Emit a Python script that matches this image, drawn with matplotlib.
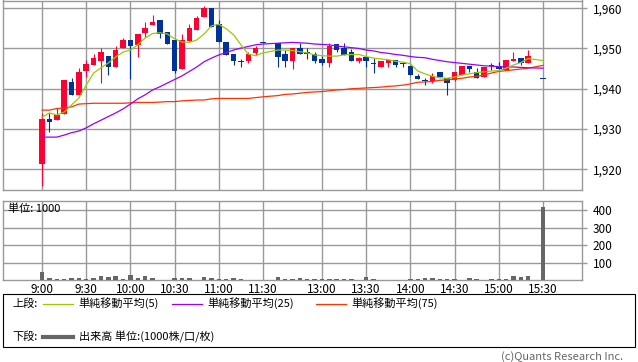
import matplotlib
matplotlib.use('Agg')
import matplotlib.pyplot as plt
from matplotlib.patches import Rectangle
from matplotlib.lines import Line2D
from matplotlib.ticker import FuncFormatter

plt.rcParams['font.family'] = ['Noto Sans CJK JP', 'DejaVu Sans']

# 5-minute bars: morning 9:00-11:30, afternoon 12:30-15:20, closing auction 15:30
times = [f'{m // 60}:{m % 60:02d}' for m in
         list(range(540, 691, 5)) + list(range(750, 921, 5)) + [930]]

opens = [1921.4, 1932.5, 1932.2, 1933.8, 1941.7, 1938.5, 1944.5, 1946.0, 1947.0, 1948.1,
         1945.5, 1950.1, 1952.1, 1950.9, 1953.9, 1955.9, 1957.1, 1954.1, 1952.1, 1945.0,
         1951.9, 1954.5, 1957.9, 1960.1, 1956.1, 1951.6, 1948.6, 1946.7, 1946.9, 1948.8,
         1951.5,
         1951.3, 1948.6, 1947.0, 1950.1, 1949.1, 1948.6, 1947.3, 1946.5, 1951.1, 1950.1,
         1949.2, 1946.9, 1947.8, 1946.3, 1945.5, 1946.5, 1947.2, 1946.5, 1945.7, 1943.2,
         1942.0, 1942.0, 1944.2, 1942.6, 1942.2, 1943.4, 1945.7, 1944.2, 1943.0, 1945.7,
         1945.7, 1944.7, 1946.9, 1947.6, 1946.4,
         1942.6]
highs = [1934.0, 1934.0, 1935.1, 1942.2, 1942.6, 1945.2, 1947.2, 1948.6, 1950.1, 1948.1,
         1950.6, 1952.7, 1952.1, 1953.6, 1956.6, 1958.2, 1957.1, 1954.1, 1952.1, 1953.6,
         1956.1, 1958.1, 1960.6, 1960.1, 1957.1, 1951.6, 1948.6, 1947.3, 1949.2, 1950.6,
         1951.5,
         1951.3, 1949.5, 1950.1, 1951.3, 1950.1, 1949.2, 1948.1, 1951.3, 1951.1, 1951.3,
         1949.8, 1948.0, 1947.8, 1947.6, 1946.9, 1947.2, 1947.2, 1946.7, 1945.7, 1943.7,
         1942.6, 1944.0, 1944.2, 1942.6, 1944.2, 1945.7, 1945.7, 1945.1, 1945.5, 1946.4,
         1946.7, 1947.1, 1949.1, 1947.6, 1949.6,
         1942.6]
lows = [1915.9, 1929.3, 1932.2, 1933.8, 1938.5, 1938.5, 1943.0, 1946.0, 1941.5, 1943.4,
        1945.5, 1950.1, 1942.4, 1948.0, 1952.8, 1955.9, 1952.5, 1951.0, 1944.0, 1945.0,
        1951.9, 1954.5, 1957.9, 1955.4, 1951.5, 1948.4, 1945.9, 1945.5, 1946.3, 1948.4,
        1951.5,
        1945.5, 1945.5, 1945.0, 1948.6, 1947.3, 1946.3, 1945.9, 1945.5, 1949.0, 1948.4,
        1947.0, 1946.5, 1945.5, 1944.0, 1945.5, 1945.5, 1945.5, 1945.5, 1943.4, 1942.5,
        1940.9, 1941.5, 1943.0, 1938.5, 1941.9, 1943.4, 1944.2, 1942.6, 1943.0, 1944.7,
        1944.8, 1944.7, 1946.9, 1945.9, 1946.4,
        1942.6]
closes = [1932.5, 1931.8, 1933.5, 1942.2, 1938.5, 1944.2, 1946.2, 1947.6, 1949.2, 1945.5,
          1949.6, 1952.1, 1950.5, 1953.6, 1955.1, 1956.6, 1953.5, 1951.0, 1944.5, 1952.1,
          1955.1, 1957.6, 1960.1, 1955.4, 1951.5, 1948.4, 1946.9, 1946.7, 1948.6, 1950.1,
          1951.5,
          1947.8, 1946.9, 1950.1, 1948.6, 1948.6, 1947.0, 1946.5, 1950.5, 1949.5, 1948.4,
          1947.0, 1947.6, 1946.9, 1946.3, 1946.9, 1947.2, 1945.9, 1946.1, 1943.4, 1942.5,
          1942.0, 1943.2, 1943.0, 1941.5, 1944.2, 1945.7, 1944.9, 1942.6, 1945.5, 1945.7,
          1944.8, 1947.1, 1947.4, 1946.3, 1948.1,
          1942.6]

ma5 = [1932.9, 1934.0, 1933.5, 1934.2, 1936.0, 1937.7, 1940.9, 1943.9, 1945.2, 1946.4,
       1947.9, 1949.1, 1949.6, 1950.9, 1952.6, 1953.7, 1953.9, 1953.6, 1952.4, 1951.6,
       1951.5, 1952.1, 1953.6, 1955.6, 1956.0, 1954.9, 1953.4, 1950.9, 1948.6, 1948.2,
       1948.9,
       1949.6, 1949.6, 1949.5, 1949.2, 1948.9, 1948.4, 1948.2, 1948.1, 1948.1, 1948.4,
       1948.5, 1948.5, 1948.0, 1947.6, 1947.4, 1947.2, 1946.8, 1946.6, 1946.2, 1944.4,
       1943.7, 1943.1, 1942.7, 1942.6, 1942.9, 1943.4, 1943.7, 1944.0, 1944.2, 1944.4,
       1944.5, 1945.1, 1945.9, 1946.5, 1947.5,
       1947.0]
ma25 = [1928.0, 1928.0, 1928.0, 1928.5, 1929.1, 1929.5, 1930.3, 1931.3, 1932.2, 1933.1,
        1934.0, 1935.0, 1936.2, 1937.5, 1938.5, 1939.7, 1940.5, 1941.4, 1942.3, 1943.2,
        1944.3, 1945.4, 1946.7, 1947.6, 1948.4, 1949.0, 1949.6, 1950.1, 1950.5, 1950.9,
        1951.1,
        1951.3, 1951.4, 1951.5, 1951.4, 1951.3, 1951.1, 1951.0, 1950.9, 1950.6, 1950.4,
        1950.2, 1950.0, 1949.6, 1949.4, 1949.0, 1948.8, 1948.5, 1948.3, 1948.0, 1947.8,
        1947.7, 1947.3, 1947.0, 1946.7, 1946.5, 1946.3, 1946.1, 1945.9, 1945.7, 1945.6,
        1945.5, 1945.4, 1945.4, 1945.3, 1945.2,
        1945.1]
ma75 = [1934.7, 1934.7, 1935.1, 1935.2, 1935.5, 1936.2, 1936.3, 1936.4, 1936.4, 1936.4,
        1936.4, 1936.4, 1936.5, 1936.6, 1936.6, 1936.6, 1936.7, 1936.8, 1936.8, 1937.0,
        1937.1, 1937.2, 1937.2, 1937.5, 1937.6, 1937.6, 1937.6, 1937.6, 1937.6, 1937.8,
        1938.0,
        1938.3, 1938.6, 1938.7, 1938.9, 1939.1, 1939.2, 1939.3, 1939.5, 1939.7, 1939.8,
        1940.0, 1940.1, 1940.2, 1940.3, 1940.4, 1940.6, 1940.7, 1940.9, 1941.2, 1941.6,
        1941.7, 1941.8, 1942.1, 1942.2, 1942.4, 1942.6, 1942.9, 1943.1, 1943.4, 1943.9,
        1944.3, 1944.5, 1944.7, 1944.9, 1945.1,
        1945.8]

volumes = [48, 11, 7, 7, 11, 11, 7, 14, 24, 20,
           24, 7, 30, 14, 24, 14, 4, 4, 14, 14,
           14, 4, 18, 14, 8, 8, 11, 7, 4, 4,
           3,
           18, 8, 8, 11, 7, 7, 7, 7, 8, 8,
           7, 4, 18, 7, 4, 4, 4, 4, 7, 7,
           12, 12, 8, 7, 7, 4, 12, 7, 4, 7,
           7, 7, 24, 18, 24,
           416]

tick_times = ['9:00', '9:30', '10:00', '10:30', '11:00', '11:30',
              '13:00', '13:30', '14:00', '14:30', '15:00', '15:30']

RED = '#ff0033'
BLUE = '#003399'
GRID = '#999999'


def slot(t):
    h, m = map(int, t.split(':'))
    mins = h * 60 + m
    if mins <= 690:
        return (mins - 540) / 5
    return 32 + (mins - 750) / 5


W, H = 638, 362


def fx(px):
    return px / W


def fy(py):
    return 1 - py / H


fig = plt.figure(figsize=(W / 100, H / 100), dpi=100)
ax = fig.add_axes([fx(3), fy(190.3), fx(582) - fx(3), (190.3 - 0.5) / H])
axv = fig.add_axes([fx(3), fy(280.3), fx(582) - fx(3), (280.3 - 201) / H])

x = [slot(t) for t in times]
xt = [slot(t) for t in tick_times]

# candles
for xi, o, h, l, c in zip(x, opens, highs, lows, closes):
    col = RED if c > o else BLUE
    if h > l:
        ax.vlines(xi, l, h, color=col, lw=0.8, zorder=3)
    hgt = abs(c - o)
    if hgt < 0.3:
        ax.bar(xi, 0.3, bottom=o - 0.15, width=0.75, color=col, lw=0, zorder=3)
    else:
        ax.bar(xi, hgt, bottom=min(o, c), width=0.75, color=col, lw=0, zorder=3)

ax.plot(x, ma75, color='#ff3300', lw=0.9, zorder=4)
ax.plot(x, ma25, color='#9900ff', lw=0.9, zorder=4)
ax.plot(x, ma5, color='#99cc00', lw=0.9, zorder=4)

for a in (ax, axv):
    a.set_xlim(-5.3, 73.3)
    a.set_xticks(xt)
    a.grid(color=GRID, lw=1.0, zorder=0)
    a.set_axisbelow(True)
    a.yaxis.tick_right()
    a.tick_params(axis='y', length=3.6, width=1.0, color=GRID, pad=4, labelsize=8.5)
    a.tick_params(axis='x', length=0)
    for s in a.spines.values():
        s.set_color(GRID)
        s.set_linewidth(1.0)

ax.set_ylim(1914.8, 1961.9)
ax.set_yticks([1920, 1930, 1940, 1950, 1960])
ax.yaxis.set_major_formatter(FuncFormatter(lambda v, p: f'{v:,.0f}'))
ax.tick_params(axis='x', labelbottom=False)

axv.bar(x, volumes, width=0.6, color='#666666', lw=0, zorder=3)
axv.set_ylim(0, 453)
axv.set_yticks([100, 200, 300, 400])
axv.set_xticklabels(tick_times)
axv.tick_params(axis='x', labelsize=8.5, pad=2)

fig.text(fx(8), fy(209), '単位: 1000', fontsize=8, va='center')

# legend box
fig.add_artist(Rectangle((fx(3), fy(346.7)), fx(635) - fx(3), (346.7 - 294.3) / H,
                         transform=fig.transFigure, fill=False, edgecolor='black', lw=0.8))
ly1, ly2 = fy(303.5), fy(336.7)
fig.text(fx(12), ly1, '上段:', fontsize=8, va='center')
for x0, col, lab in [(43, '#99cc00', '単純移動平均(5)'),
                     (172, '#9900ff', '単純移動平均(25)'),
                     (316, '#ff3300', '単純移動平均(75)')]:
    fig.add_artist(Line2D([fx(x0), fx(x0 + 30)], [ly1, ly1], color=col, lw=0.9,
                          transform=fig.transFigure))
    fig.text(fx(x0 + 35), ly1, lab, fontsize=8, va='center')
fig.text(fx(12), ly2, '下段:', fontsize=8, va='center')
fig.add_artist(Line2D([fx(43), fx(73)], [ly2, ly2], color='#666666', lw=3,
                      transform=fig.transFigure))
fig.text(fx(79), ly2, '出来高 単位:(1000株/口/枚)', fontsize=8, va='center')

fig.text(fx(501), fy(361.8), '(c)Quants Research Inc.', fontsize=8, color='#666666',
         va='bottom')

fig.savefig('out.png', dpi=100)
